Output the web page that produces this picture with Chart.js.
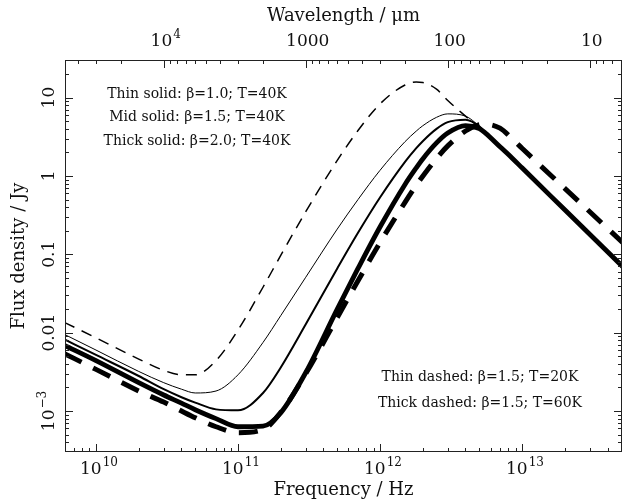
<!DOCTYPE html>
<html>
<head>
<meta charset="utf-8">
<script src="https://cdn.jsdelivr.net/npm/chart.js@4.4.1/dist/chart.umd.min.js"></script>
<style>
  html, body { margin: 0; padding: 0; background: #fff; }
  #wrap { width: 630px; height: 503px; position: relative; }
</style>
</head>
<body>
<div id="wrap"><canvas id="sed"></canvas></div>
<script>
// frequency grid, Hz
const freq = [6e9, 1e10, 2e10, 3e10, 4e10, 5e10, 7e10, 1e11, 1.5e11, 2e11, 3e11, 5e11, 7e11,
  1e12, 1.5e12, 1.8e12, 2e12, 2.5e12, 3e12, 4e12, 5e12, 5.5e12, 7e12, 8.5e12, 1e13, 2e13, 5.1e13];

// flux density in Jy
const thinSolid = [0.0095, 0.0060, 0.0032, 0.0023, 0.0019, 0.0017, 0.0018, 0.0029, 0.0075, 0.0165, 0.051, 0.21, 0.50,
  1.18, 2.74, 3.74, 4.37, 5.6, 6.2, 5.8, 4.3, 3.55, null, null, null, null, null];
const midSolid = [0.0082, 0.0052, 0.0028, 0.0019, 0.0015, 0.00128, 0.00105, 0.00102, 0.0017, 0.0036, 0.0128, 0.066, 0.188,
  0.53, 1.51, 2.26, 2.78, 3.99, 4.86, 5.23, 4.3, 3.6, null, null, null, null, null];
const thickSolid = [0.0069, 0.0044, 0.0023, 0.0016, 0.00126, 0.00104, 0.0008, 0.00063, 0.00064, 0.00095, 0.0031, 0.020, 0.066,
  0.223, 0.78, 1.27, 1.65, 2.64, 3.53, 4.39, 4.02, 3.55, 2.36, 1.70, 1.27, 0.37, 0.07];
const thinDashed = [0.0135, 0.0086, 0.0046, 0.0033, 0.0029, 0.0029, 0.0044, 0.0108, 0.038, 0.097, 0.35, 1.58, 3.8,
  8.3, 14.5, 15.8, 15.6, 12.8, 9.2, 5.8, 4.1, 3.5, null, null, null, null, null];
const thickDashed = [0.0054, 0.0034, 0.0018, 0.0013, 0.001, 0.00082, 0.00063, 0.00053, 0.00058, 0.00096, 0.0030, 0.0156, 0.046,
  0.141, 0.46, 0.76, 0.99, 1.67, 2.42, 3.75, 4.5, 4.58, 4.07, 3.0, 2.26, 0.695, 0.142];

// axis ticks: [base, exponent]
const freqTicks = [1e10, 1e11, 1e12, 1e13];
const freqTickLabels = [['10', '10'], ['10', '11'], ['10', '12'], ['10', '13']];
const waveTicks = [1e4, 1000, 100, 10];
const waveTickLabels = [['10', '4'], ['1000', ''], ['100', ''], ['10', '']];
const fluxTicks = [1e-3, 0.01, 0.1, 1, 10];
const fluxTickLabels = [['10', '−3'], ['0.01', ''], ['0.1', ''], ['1', ''], ['10', '']];

const notesTop = ['Thin solid: β=1.0; T=40K', 'Mid solid: β=1.5; T=40K', 'Thick solid: β=2.0; T=40K'];
const notesBottom = ['Thin dashed: β=1.5; T=20K', 'Thick dashed: β=1.5; T=60K'];

const C_UM_HZ = 2.998e14;   // c in micron * Hz
const X_MIN = 6.05e9, X_MAX = 5.06e13;
const Y_MIN = 3.05e-4, Y_MAX = 30.2;

const INK = '#111';
const SERIF = '"DejaVu Serif", serif';
const titleFont = { family: 'DejaVu Serif', size: 18 };

function logSteps(min, max) {
  const out = [];
  for (let d = Math.floor(Math.log10(min)); d <= Math.ceil(Math.log10(max)); d++) {
    for (let m = 1; m <= 9; m++) {
      const v = m * Math.pow(10, d);
      if (v >= min && v <= max) out.push({ v, major: m === 1 });
    }
  }
  return out;
}

// "10" with raised exponent, centred on x, baseline y
function powLabel(ctx, lab, x, y) {
  ctx.font = '17px ' + SERIF;
  const w1 = ctx.measureText(lab[0]).width;
  ctx.font = '12px ' + SERIF;
  const w2 = lab[1] ? ctx.measureText(lab[1]).width + 1 : 0;
  const x0 = x - (w1 + w2) / 2;
  ctx.textAlign = 'left';
  ctx.textBaseline = 'alphabetic';
  ctx.font = '17px ' + SERIF;
  ctx.fillText(lab[0], x0, y);
  if (lab[1]) {
    ctx.font = '12px ' + SERIF;
    ctx.fillText(lab[1], x0 + w1 + 1, y - 8);
  }
}

const pts = vals => freq.map((f, i) => ({ x: f, y: vals[i] }));

function series(label, vals, width, dash) {
  return {
    label, data: pts(vals),
    borderColor: '#000', borderWidth: width, borderDash: dash,
    borderCapStyle: 'butt', pointRadius: 0, fill: false,
    cubicInterpolationMode: 'monotone'
  };
}

const frameTicks = {
  id: 'frameTicks',
  afterDraw(chart) {
    const { ctx, chartArea: a, scales } = chart;
    ctx.save();
    ctx.strokeStyle = '#222';
    ctx.lineWidth = 1;
    ctx.strokeRect(a.left + 0.5, a.top + 0.5, a.right - a.left - 1, a.bottom - a.top - 1);

    ctx.beginPath();
    logSteps(X_MIN, X_MAX).forEach(t => {
      const px = Math.round(scales.x.getPixelForValue(t.v)) + 0.5;
      const len = t.major ? 8 : 4;
      ctx.moveTo(px, a.bottom); ctx.lineTo(px, a.bottom - len);
    });
    logSteps(C_UM_HZ / X_MAX, C_UM_HZ / X_MIN).forEach(t => {
      const px = Math.round(scales.x2.getPixelForValue(t.v)) + 0.5;
      const len = t.major ? 8 : 4;
      ctx.moveTo(px, a.top); ctx.lineTo(px, a.top + len);
    });
    logSteps(Y_MIN, Y_MAX).forEach(t => {
      const py = Math.round(scales.y.getPixelForValue(t.v)) + 0.5;
      const len = t.major ? 8 : 4;
      ctx.moveTo(a.left, py); ctx.lineTo(a.left + len, py);
      ctx.moveTo(a.right, py); ctx.lineTo(a.right - len, py);
    });
    ctx.stroke();

    ctx.fillStyle = INK;
    freqTicks.forEach((v, i) => powLabel(ctx, freqTickLabels[i], scales.x.getPixelForValue(v) + 3, a.bottom + 22));
    waveTicks.forEach((v, i) => powLabel(ctx, waveTickLabels[i], scales.x2.getPixelForValue(v) + 2, a.top - 14));
    fluxTicks.forEach((v, i) => {
      ctx.save();
      ctx.translate(54, scales.y.getPixelForValue(v));
      ctx.rotate(-Math.PI / 2);
      powLabel(ctx, fluxTickLabels[i], 0, 0);
      ctx.restore();
    });

    // notes
    ctx.font = '14px ' + SERIF;
    ctx.textAlign = 'center';
    ctx.textBaseline = 'middle';
    notesTop.forEach((s, i) => ctx.fillText(s, 197, 94 + i * 23.5));
    notesBottom.forEach((s, i) => ctx.fillText(s, 480, 377 + i * 26));
    ctx.restore();
  }
};

new Chart(document.getElementById('sed'), {
  type: 'line',
  data: {
    datasets: [
      series('Thin solid', thinSolid, 1.0, []),
      series('Mid solid', midSolid, 2.0, []),
      series('Thick solid', thickSolid, 4.8, []),
      series('Thin dashed', thinDashed, 1.5, [11, 8]),
      series('Thick dashed', thickDashed, 5, [19, 13])
    ]
  },
  options: {
    responsive: true,
    maintainAspectRatio: false,
    animation: false,
    devicePixelRatio: 1,
    layout: { padding: { right: 8 } },
    plugins: { legend: { display: false }, tooltip: { enabled: false } },
    scales: {
      x: {
        type: 'logarithmic', position: 'bottom', min: X_MIN, max: X_MAX,
        afterFit: s => { s.height = 51; },
        grid: { display: false, drawTicks: false },
        border: { display: false },
        ticks: { display: false },
        title: { display: true, text: 'Frequency / Hz', color: INK, font: titleFont, padding: { top: 0, bottom: 2 } }
      },
      x2: {
        type: 'logarithmic', position: 'top', reverse: true,
        min: C_UM_HZ / X_MAX, max: C_UM_HZ / X_MIN,
        afterFit: s => { s.height = 60; },
        grid: { display: false, drawTicks: false },
        border: { display: false },
        ticks: { display: false },
        title: { display: true, text: 'Wavelength / μm', color: INK, font: titleFont, padding: { top: 6, bottom: 0 } }
      },
      y: {
        type: 'logarithmic', min: Y_MIN, max: Y_MAX,
        afterFit: s => { s.width = 65; },
        grid: { display: false, drawTicks: false },
        border: { display: false },
        ticks: { display: false },
        title: { display: true, text: 'Flux density / Jy', color: INK, font: titleFont, padding: { top: 9, bottom: 0 } }
      }
    }
  },
  plugins: [frameTicks]
});
</script>
</body>
</html>
